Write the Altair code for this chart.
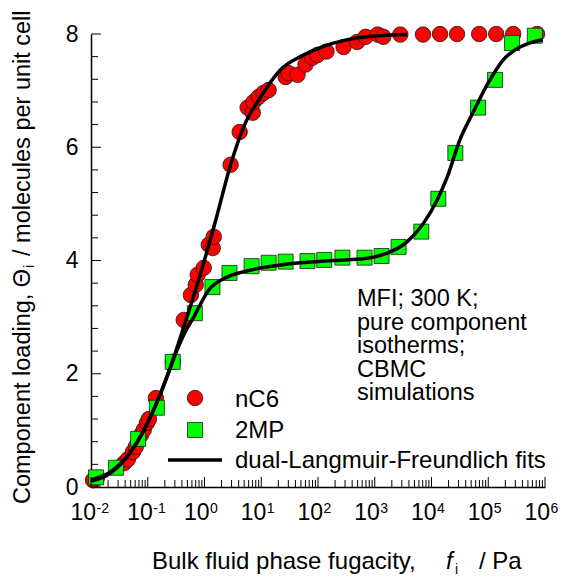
import altair as alt
import pandas as pd

FONT = "Liberation Sans, Arial, Helvetica, sans-serif"

# ---- CBMC simulation data (log10 of fugacity in Pa, loading) ----
nc6_logf = [-1.965, -1.895, -1.42, -1.35, -1.26, -1.21, -1.12, -1.07, -1.015, -0.98,
            -0.857, -0.558, -0.365, -0.24, -0.154, -0.12, -0.013, 0.075, 0.145, 0.163,
            0.46, 0.62, 0.76, 0.85, 0.866, 0.954, 1.04, 1.13, 1.43, 1.48,
            1.64, 1.78, 1.90, 1.99, 2.15, 2.45, 2.69, 2.84, 3.05, 3.15,
            3.45, 3.85, 4.15, 4.45, 4.84, 5.14, 5.44, 5.86]
nc6_load = [0.12, 0.16, 0.42, 0.49, 0.62, 0.71, 0.92, 1.01, 1.13, 1.20,
            1.57, 2.21, 2.95, 3.39, 3.57, 3.75, 3.87, 4.28, 4.22, 4.42,
            5.69, 6.27, 6.70, 6.61, 6.80, 6.89, 6.96, 7.01, 7.24, 7.31,
            7.28, 7.46, 7.58, 7.63, 7.69, 7.77, 7.86, 7.95, 7.99, 7.95,
            7.99, 7.99, 8.0, 8.0, 8.0, 8.0, 8.0, 8.0]

mp_logf = [-1.91, -1.56, -1.17, -0.84, -0.56, -0.17, 0.14, 0.44, 0.83, 1.13,
           1.43, 1.815, 2.11, 2.43, 2.82, 3.12, 3.42, 3.82, 4.12, 4.42,
           4.82, 5.12, 5.42, 5.82]
mp_load = [0.17, 0.34, 0.85, 1.40, 2.21, 3.07, 3.53, 3.78, 3.90, 3.96,
           3.98, 3.99, 4.01, 4.05, 4.05, 4.08, 4.24, 4.51, 5.09, 5.90,
           6.70, 7.19, 7.84, 7.97]

# ---- dual-Langmuir-Freundlich fit curves ----
fit_nc6_logf = [-2, -1.65, -1.3, -1.07, -0.82, -0.68, -0.365, -0.066, 0.2, 0.46,
                0.69, 0.99, 1.34, 1.69, 2.04, 2.52, 3.1, 3.57]
fit_nc6_load = [0.10, 0.25, 0.62, 1.0, 1.54, 1.89, 2.83, 3.78, 4.72, 5.69,
                6.36, 6.89, 7.37, 7.6, 7.76, 7.9, 7.97, 7.99]

fit_mp_logf = [-2, -1.65, -1.3, -1.07, -0.82, -0.68, -0.5, -0.35, -0.19, 0.075,
               0.41, 0.81, 1.34, 1.69, 2.27, 2.87, 3.22, 3.57, 3.86, 4.1,
               4.28, 4.5, 4.73, 4.98, 5.26, 5.56, 5.96]
fit_mp_load = [0.13, 0.27, 0.62, 1.0, 1.54, 1.9, 2.38, 2.72, 3.0, 3.48,
               3.71, 3.83, 3.92, 3.96, 4.0, 4.04, 4.13, 4.33, 4.66, 5.07,
               5.48, 6.13, 6.61, 7.1, 7.54, 7.77, 7.9]

# ---- axis ticks / labels ----
x_exponents = [-2, -1, 0, 1, 2, 3, 4, 5, 6]
x_minor_mult = [2, 3, 4, 5, 6, 7, 8, 9]
y_major = [0, 2, 4, 6, 8]
y_minor = [0.4, 0.8, 1.2, 1.6, 2.4, 2.8, 3.2, 3.6, 4.4, 4.8, 5.2, 5.6, 6.4, 6.8, 7.2, 7.6]

legend_labels = ["nC6", "2MP", "dual-Langmuir-Freundlich fits"]
annotation_lines = ["MFI; 300 K;", "pure component", "isotherms;", "CBMC", "simulations"]

# ---- tables ----
nc6_df = pd.DataFrame({"f": [10 ** v for v in nc6_logf], "q": nc6_load})
mp_df = pd.DataFrame({"f": [10 ** v for v in mp_logf], "q": mp_load})
fit_nc6_df = pd.DataFrame({"f": [10 ** v for v in fit_nc6_logf], "q": fit_nc6_load})
fit_mp_df = pd.DataFrame({"f": [10 ** v for v in fit_mp_logf], "q": fit_mp_load})
xmaj_df = pd.DataFrame({"f": [10.0 ** e for e in x_exponents], "exp": [str(e) for e in x_exponents]})
xmin_df = pd.DataFrame({"f": [m * 10.0 ** e for e in x_exponents[:-1] for m in x_minor_mult]})
ymaj_df = pd.DataFrame({"q": y_major})
ymin_df = pd.DataFrame({"q": y_minor})
one = pd.DataFrame({"a": [0]})

xs = alt.Scale(type="log", domain=[1e-2, 1e6])
ys = alt.Scale(domain=[0, 8])

XAXIS = alt.Axis(labels=False, ticks=False, title=None, grid=False,
                 domainColor="black", domainWidth=1.5)
YAXIS = alt.Axis(values=y_major, ticks=False, grid=False, title=None,
                 labelFontSize=23, labelFont=FONT, labelColor="black",
                 labelPadding=13, domainColor="black", domainWidth=1.5)

X = alt.X("f:Q", scale=xs, axis=XAXIS)
Y = alt.Y("q:Q", scale=ys, axis=YAXIS)

RED = "#FF0000"
GREEN = "#00FF00"
EDGE = "#1a1a1a"
MSIZE = 240

circles = alt.Chart(nc6_df).mark_circle(
    size=MSIZE, fill=RED, stroke=EDGE, strokeWidth=0.8, opacity=1
).encode(x=X, y=Y)

squares = alt.Chart(mp_df).mark_square(
    size=MSIZE - 15, fill=GREEN, stroke=EDGE, strokeWidth=0.8, opacity=1
).encode(x=X, y=Y)

line_nc6 = alt.Chart(fit_nc6_df).mark_line(color="black", strokeWidth=3.5, interpolate="monotone").encode(x=X, y=Y)
line_mp = alt.Chart(fit_mp_df).mark_line(color="black", strokeWidth=3.5, interpolate="monotone").encode(x=X, y=Y)

# inward ticks
ytick_major = alt.Chart(ymaj_df).mark_rule(color="black", strokeWidth=1).encode(
    y=Y, x=alt.value(0), x2=alt.value(10))
ytick_minor = alt.Chart(ymin_df).mark_rule(color="black", strokeWidth=1).encode(
    y=Y, x=alt.value(0), x2=alt.value(7))
xtick_major = alt.Chart(xmaj_df).mark_rule(color="black", strokeWidth=1).encode(
    x=X, y=alt.value(453), y2=alt.value(443))
xtick_minor = alt.Chart(xmin_df).mark_rule(color="black", strokeWidth=1).encode(
    x=X, y=alt.value(453), y2=alt.value(446))

# x tick labels 10^n
xlab_base = alt.Chart(xmaj_df).mark_text(
    text="10", align="right", baseline="alphabetic", fontSize=23, font=FONT, color="black", dx=5
).encode(x=X, y=alt.value(486))
xlab_exp = alt.Chart(xmaj_df).mark_text(
    align="left", baseline="alphabetic", fontSize=14, font=FONT, color="black", dx=5.5
).encode(x=X, y=alt.value(479), text="exp:N")

# x axis title (composite for italic f and subscript i)
xt1 = alt.Chart(one).mark_text(text="Bulk fluid phase fugacity,", align="left", baseline="alphabetic",
                               fontSize=24, font=FONT, color="black").encode(x=alt.value(61), y=alt.value(535))
xt2 = alt.Chart(one).mark_text(text="f", align="left", baseline="alphabetic", fontStyle="italic",
                               fontSize=24, font=FONT, color="black").encode(x=alt.value(355), y=alt.value(535))
xt3 = alt.Chart(one).mark_text(text="i", align="left", baseline="alphabetic",
                               fontSize=14, font=FONT, color="black").encode(x=alt.value(364), y=alt.value(540))
xt4 = alt.Chart(one).mark_text(text="/ Pa", align="left", baseline="alphabetic",
                               fontSize=24, font=FONT, color="black").encode(x=alt.value(388), y=alt.value(535))

# y axis title (rotated composite)
yt1 = alt.Chart(one).mark_text(text="Component loading, \u0398", align="left", baseline="alphabetic", angle=270,
                               fontSize=23.5, font=FONT, color="black").encode(x=alt.value(-61), y=alt.value(470))
yt2 = alt.Chart(one).mark_text(text="i", align="left", baseline="alphabetic", angle=270,
                               fontSize=14, font=FONT, color="black").encode(x=alt.value(-57), y=alt.value(234))
yt3 = alt.Chart(one).mark_text(text="/ molecules per unit cell", align="left", baseline="alphabetic", angle=270,
                               fontSize=23.5, font=FONT, color="black").encode(x=alt.value(-61), y=alt.value(222))

# legend
leg_c = alt.Chart(one).mark_circle(size=MSIZE, fill=RED, stroke=EDGE, strokeWidth=0.8, opacity=1).encode(
    x=alt.value(104), y=alt.value(364))
leg_s = alt.Chart(one).mark_square(size=MSIZE - 15, fill=GREEN, stroke=EDGE, strokeWidth=0.8, opacity=1).encode(
    x=alt.value(104), y=alt.value(396))
leg_l = alt.Chart(one).mark_rule(color="black", strokeWidth=3.5).encode(
    x=alt.value(77), x2=alt.value(131), y=alt.value(426))
leg_t1 = alt.Chart(one).mark_text(text=legend_labels[0], align="left", baseline="alphabetic", fontSize=24,
                                  font=FONT, color="black").encode(x=alt.value(144), y=alt.value(373))
leg_t2 = alt.Chart(one).mark_text(text=legend_labels[1], align="left", baseline="alphabetic", fontSize=24,
                                  font=FONT, color="black").encode(x=alt.value(144), y=alt.value(404))
leg_t3 = alt.Chart(one).mark_text(text=legend_labels[2], align="left", baseline="alphabetic", fontSize=24,
                                  font=FONT, color="black").encode(x=alt.value(144), y=alt.value(434))

annot = alt.Chart(one).mark_text(text=annotation_lines, align="left", baseline="alphabetic", fontSize=23.5,
                                 lineHeight=23.5, font=FONT, color="black").encode(
    x=alt.value(266), y=alt.value(272))

chart = alt.layer(
    circles, squares, line_nc6, line_mp,
    ytick_major, ytick_minor, xtick_major, xtick_minor,
    xlab_base, xlab_exp, xt1, xt2, xt3, xt4, yt1, yt2, yt3,
    leg_c, leg_s, leg_l, leg_t1, leg_t2, leg_t3, annot,
).properties(
    width=454, height=453,
    padding={"left": 91, "top": 34, "right": 19, "bottom": 90},
    autosize=alt.AutoSizeParams(type="none"),
).configure_view(stroke=None)

chart.save("out.html", embed_options={"renderer": "svg", "actions": False})
